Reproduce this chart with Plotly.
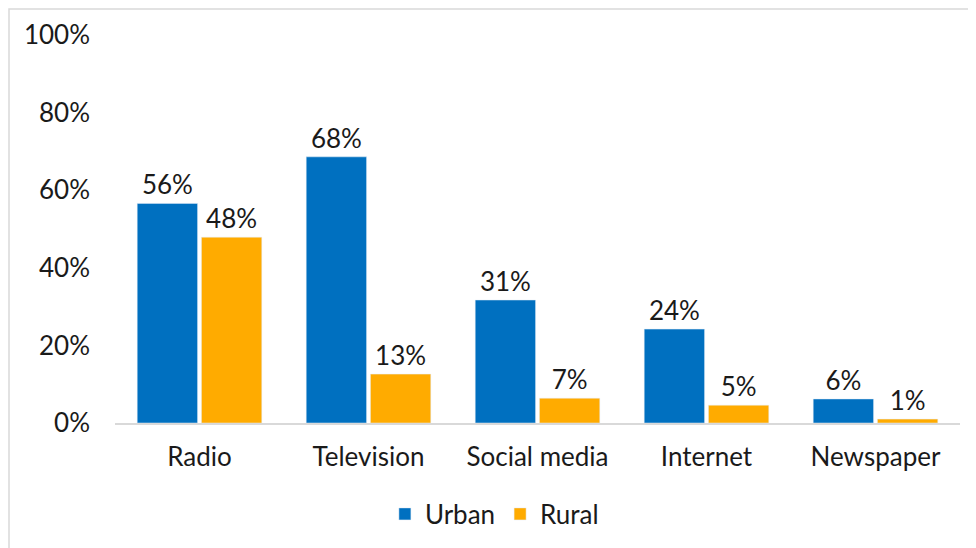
import plotly.graph_objects as go

categories = ["Radio", "Television", "Social media", "Internet", "Newspaper"]
urban = [0.566, 0.686, 0.317, 0.242, 0.062]
rural = [0.479, 0.126, 0.064, 0.046, 0.010]
urban_labels = ["56%", "68%", "31%", "24%", "6%"]
rural_labels = ["48%", "13%", "7%", "5%", "1%"]
y_ticks = [0, 0.2, 0.4, 0.6, 0.8, 1.0]
y_tick_labels = ["0%", "20%", "40%", "60%", "80%", "100%"]

FONT = "Lato, Noto Sans, sans-serif"
TXT = "#1a1a1a"
FS = 26

fig = go.Figure()
fig.add_trace(go.Bar(x=categories, y=urban, name="Urban", marker_color="#0070C0",
                     text=urban_labels, textposition="outside",
                     textfont=dict(size=FS, color=TXT, family=FONT), cliponaxis=False))
fig.add_trace(go.Bar(x=categories, y=rural, name="Rural", marker_color="#FFAB00",
                     text=rural_labels, textposition="outside",
                     textfont=dict(size=FS, color=TXT, family=FONT), cliponaxis=False))

fig.update_layout(
    width=968, height=540,
    margin=dict(l=107, r=16, t=27, b=125, autoexpand=False),
    paper_bgcolor="white", plot_bgcolor="white",
    barmode="group", bargap=0.24, bargroupgap=0.06,
    font=dict(family=FONT, size=FS, color=TXT),
    showlegend=True,
    legend=dict(orientation="h", x=0.449, xanchor="center", y=-0.2345, yanchor="middle",
                font=dict(size=FS, color=TXT, family=FONT), itemwidth=30,
                traceorder="normal"),
    xaxis=dict(showline=True, linecolor="#D9D9D9", linewidth=1.5, showgrid=False,
               automargin=False,
               ticks="", ticklabelstandoff=10, tickfont=dict(size=FS, color=TXT)),
    yaxis=dict(range=[0, 1.0], tickvals=y_ticks, ticktext=y_tick_labels, showgrid=False,
               automargin=False,
               zeroline=False, showline=False, ticks="", ticklabelstandoff=24,
               tickfont=dict(size=FS, color=TXT)),
    shapes=[dict(type="rect", xref="paper", yref="paper",
                 x0=(1 - 107) / 845, x1=1.2, y0=-0.5, y1=1 + 26 / 388,
                 line=dict(color="#D9D9D9", width=1.5), fillcolor="rgba(0,0,0,0)",
                 layer="below")],
)

fig.write_html("out.html")
